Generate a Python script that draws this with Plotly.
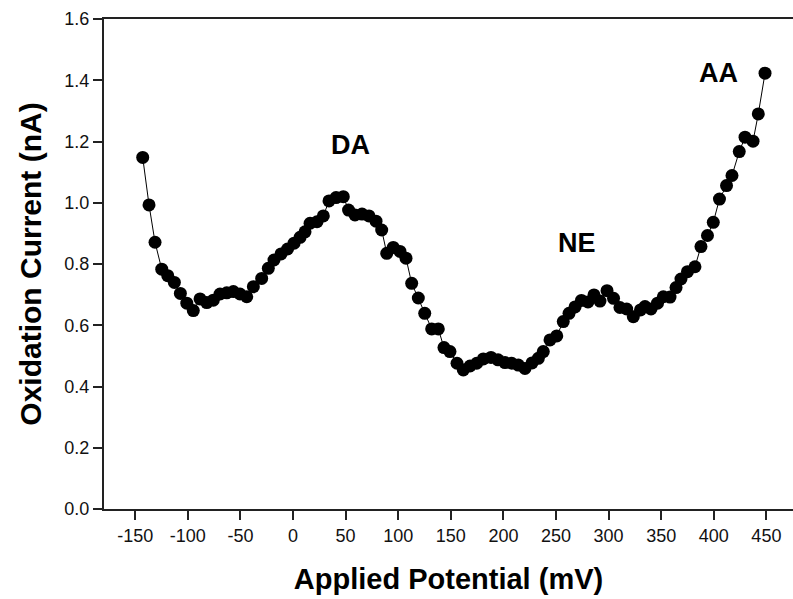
import plotly.graph_objects as go

# Applied potential (mV)
potential_mV = [
    -142.9, -136.9, -131.2, -124.8, -119.1, -112.8, -107.1, -101.0, -94.8, -88.4,
    -82.0, -75.8, -69.4, -63.0, -56.7, -50.4, -44.0, -37.7, -29.8, -23.5,
    -18.1, -11.4, -5.2, 1.0, 6.7, 11.4, 16.2, 22.8, 28.8, 34.2,
    40.9, 47.8, 52.8, 58.9, 65.6, 72.2, 78.9, 84.3, 89.1, 95.3,
    101.7, 107.4, 112.8, 119.1, 125.2, 131.8, 138.1, 143.5, 149.2, 155.9,
    161.9, 168.3, 174.6, 180.9, 188.2, 194.9, 201.5, 207.9, 214.2, 220.5,
    227.2, 233.2, 237.9, 244.3, 250.7, 256.9, 262.4, 268.1, 274.2, 280.4,
    286.1, 291.8, 298.5, 304.7, 310.8, 317.2, 323.5, 330.3, 334.6, 340.3,
    346.5, 352.0, 358.4, 364.1, 368.8, 375.0, 382.1, 387.8, 394.0, 399.5,
    405.4, 412.1, 417.3, 424.2, 429.7, 437.3, 442.3, 448.7,
]

# Oxidation current (nA)
current_nA = [
    1.148, 0.993, 0.871, 0.783, 0.762, 0.740, 0.704, 0.672, 0.648, 0.686,
    0.674, 0.682, 0.702, 0.706, 0.710, 0.702, 0.693, 0.726, 0.753, 0.786,
    0.813, 0.833, 0.849, 0.868, 0.887, 0.905, 0.933, 0.938, 0.957, 1.006,
    1.017, 1.020, 0.976, 0.960, 0.963, 0.957, 0.940, 0.911, 0.835, 0.854,
    0.841, 0.819, 0.737, 0.689, 0.639, 0.588, 0.588, 0.527, 0.514, 0.476,
    0.454, 0.467, 0.476, 0.490, 0.495, 0.487, 0.478, 0.476, 0.470, 0.459,
    0.477, 0.492, 0.514, 0.552, 0.565, 0.612, 0.639, 0.660, 0.681, 0.676,
    0.699, 0.679, 0.713, 0.688, 0.658, 0.653, 0.628, 0.650, 0.661, 0.653,
    0.672, 0.693, 0.692, 0.723, 0.751, 0.775, 0.791, 0.857, 0.893, 0.936,
    1.012, 1.056, 1.089, 1.167, 1.214, 1.201, 1.290, 1.423,
]

x_ticks = [-150, -100, -50, 0, 50, 100, 150, 200, 250, 300, 350, 400, 450]
x_tick_labels = ["-150", "-100", "-50", "0", "50", "100", "150", "200",
                 "250", "300", "350", "400", "450"]
y_ticks = [0.0, 0.2, 0.4, 0.6, 0.8, 1.0, 1.2, 1.4, 1.6]
y_tick_labels = ["0.0", "0.2", "0.4", "0.6", "0.8", "1.0", "1.2", "1.4", "1.6"]

peak_labels = ["DA", "NE", "AA"]
peak_x = [55, 270, 404]
peak_y = [1.189, 0.869, 1.424]

fig = go.Figure()
fig.add_trace(go.Scatter(
    x=potential_mV, y=current_nA,
    mode="lines+markers",
    line=dict(color="black", width=1),
    marker=dict(color="black", size=13),
    showlegend=False,
))

for t, xx, yy in zip(peak_labels, peak_x, peak_y):
    fig.add_annotation(x=xx, y=yy, text="<b>%s</b>" % t, showarrow=False,
                       font=dict(family="Arial, Liberation Sans", size=27, color="black"))

fig.update_layout(
    width=793, height=599,
    margin=dict(l=104, r=0, t=19, b=90),
    paper_bgcolor="white", plot_bgcolor="white",
    font=dict(family="Arial, Liberation Sans", color="black"),
)
fig.update_xaxes(
    range=[-179.7, 475.3], tickvals=x_ticks, ticktext=x_tick_labels,
    ticks="outside", ticklen=9, tickwidth=1.5, tickcolor="#222",
    showline=True, linecolor="#222", linewidth=2, mirror=True,
    showgrid=False, zeroline=False,
    tickfont=dict(size=18, color="#111"),
    title=dict(text="<b>Applied Potential (mV)</b>", font=dict(size=29), standoff=24),
)
fig.update_yaxes(
    range=[0, 1.6], tickvals=y_ticks, ticktext=y_tick_labels,
    ticks="outside", ticklen=9, tickwidth=1.5, tickcolor="#222",
    showline=True, linecolor="#222", linewidth=2, mirror=False,
    showgrid=False, zeroline=False,
    tickfont=dict(size=18, color="#111"),
    title=dict(text="<b>Oxidation Current (nA)</b>", font=dict(size=30), standoff=14),
)

fig.write_html("out.html")
